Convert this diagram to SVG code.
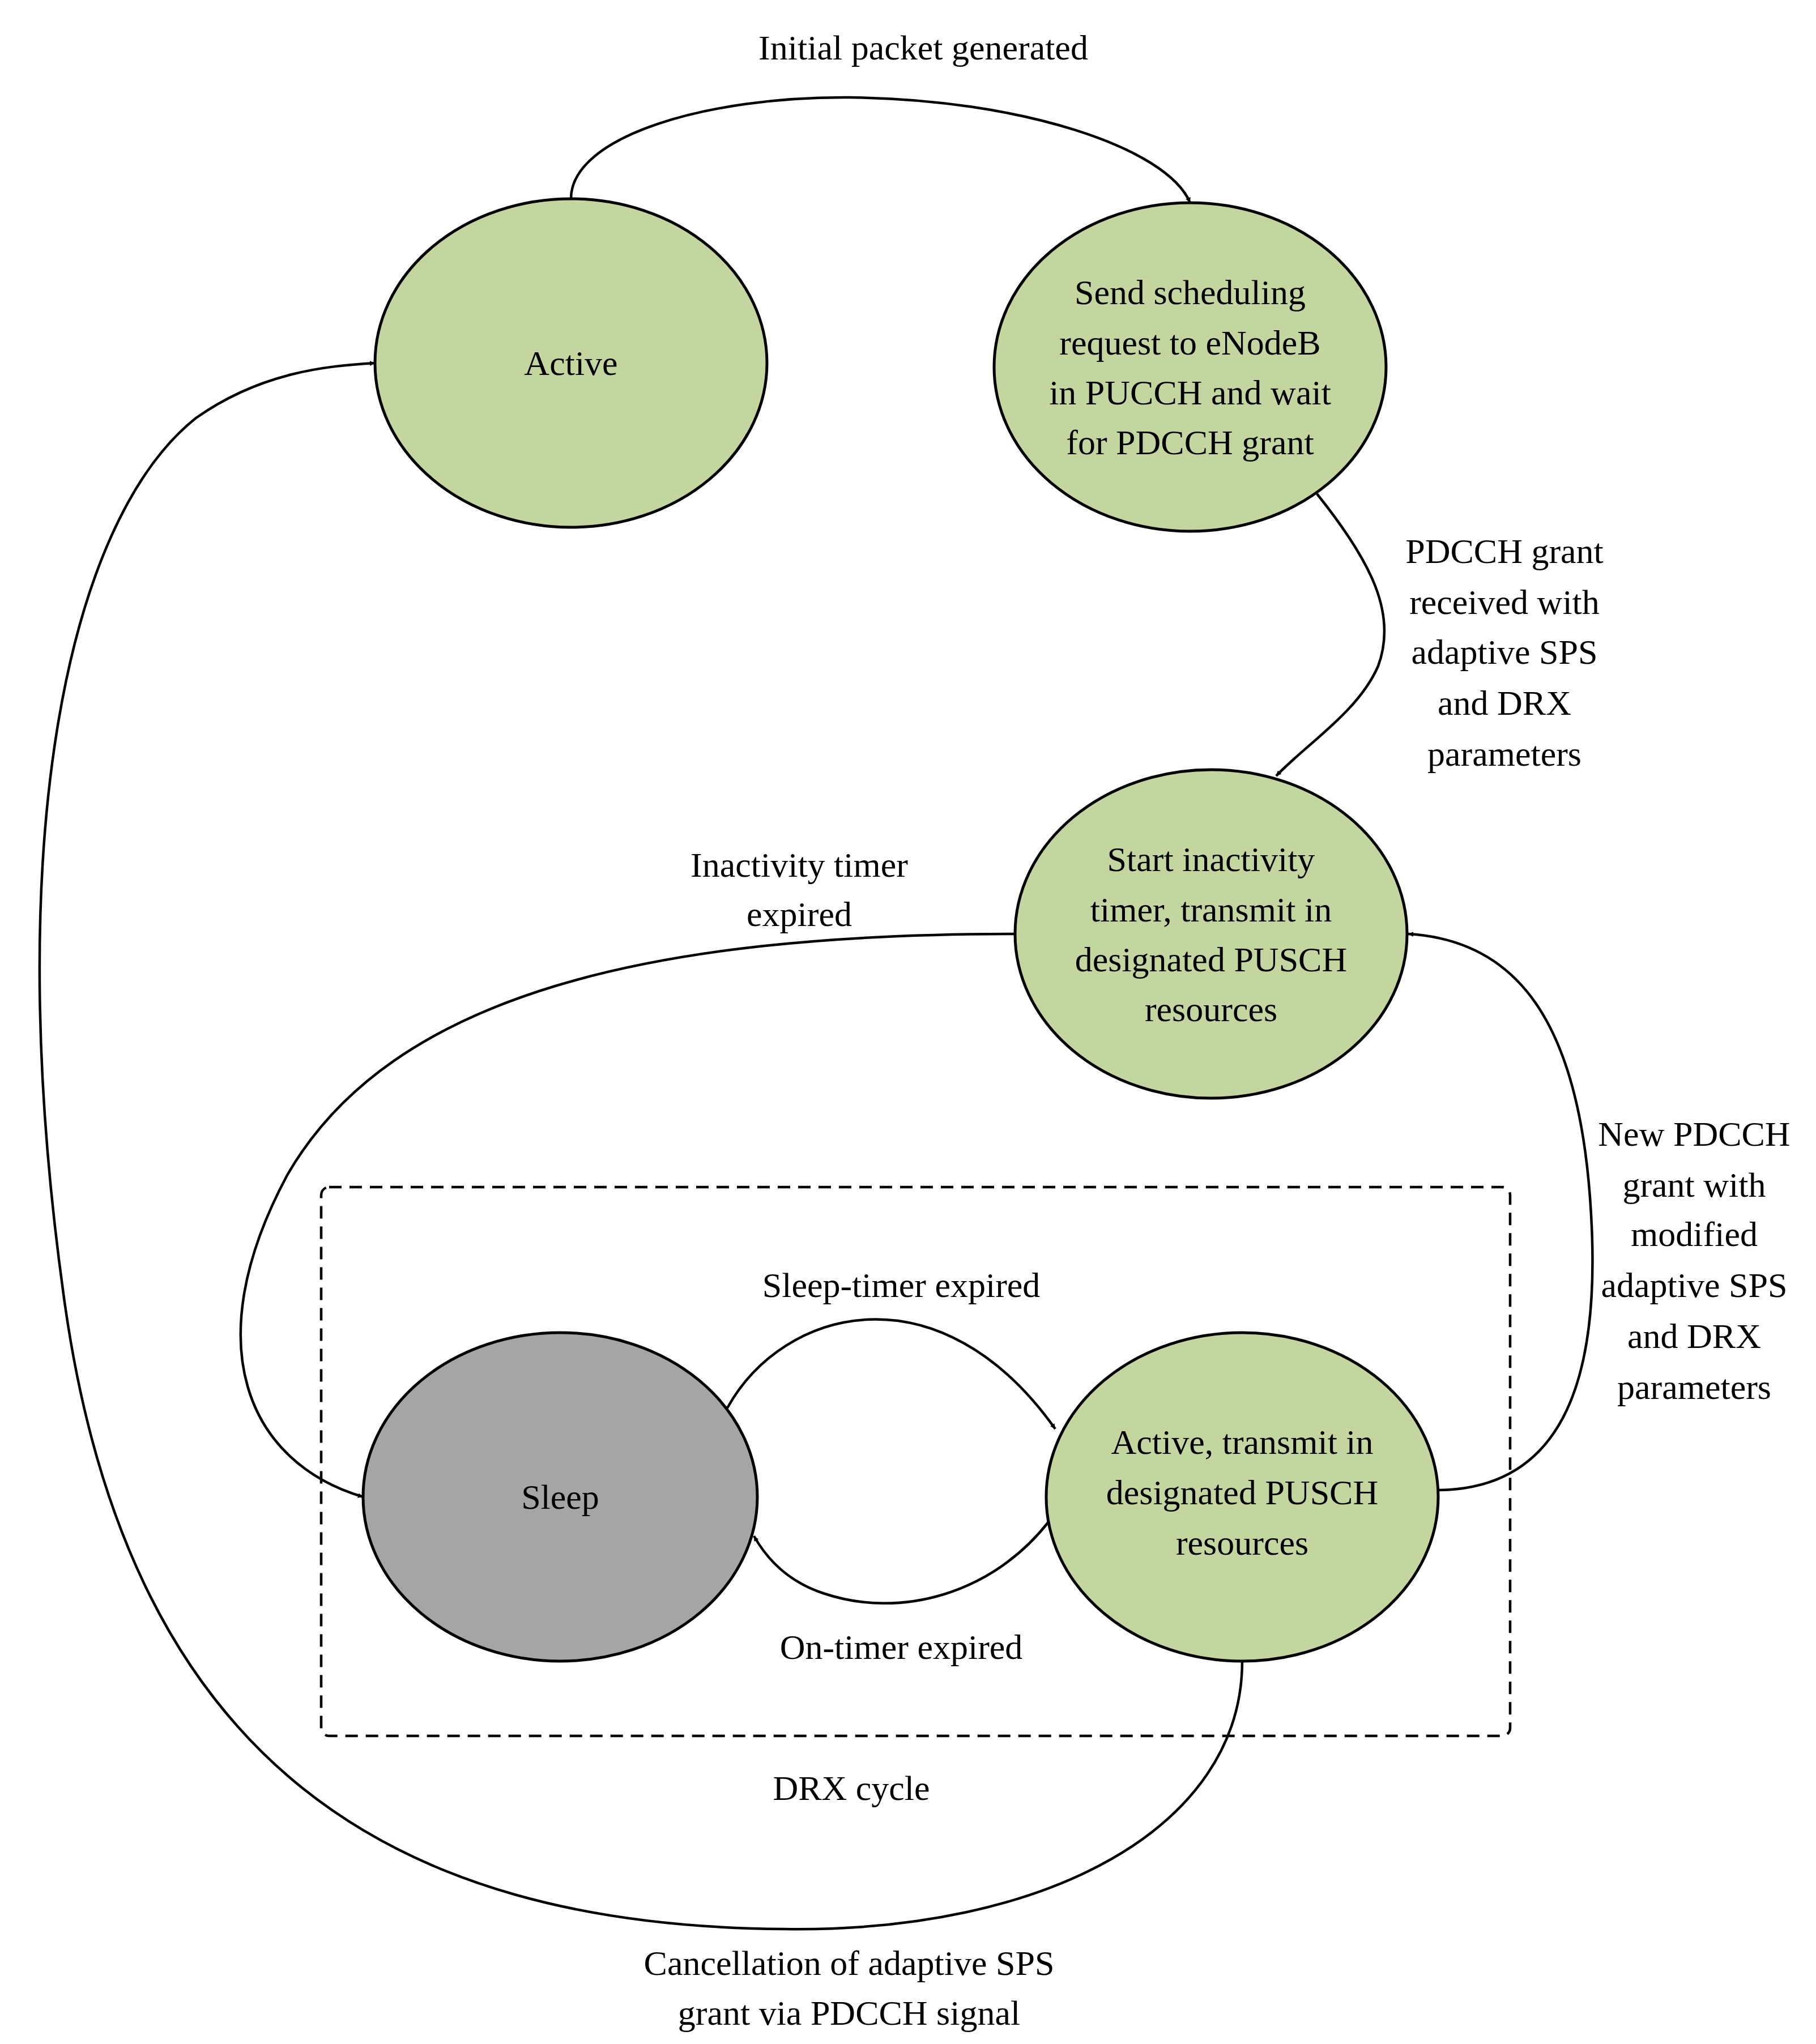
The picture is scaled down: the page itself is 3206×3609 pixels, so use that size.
<svg xmlns="http://www.w3.org/2000/svg" width="3206" height="3609" viewBox="0 0 3206 3609">
<style>
text{font-family:"Liberation Serif",serif;font-size:62px;fill:#000;text-anchor:middle}
.n{stroke:#000;stroke-width:5}
.g{fill:#c4d6a0}
.e{fill:none;stroke:#000;stroke-width:4.5}
</style>
<defs><marker id="a" viewBox="0 0 10 10" refX="10" refY="5" markerWidth="9" markerHeight="9" markerUnits="userSpaceOnUse" orient="auto"><path d="M0,0L10,5L0,10z" fill="#000"/></marker></defs>
<rect width="3206" height="3609" fill="#fff"/>
<g id="drx"><rect x="567" y="2096" width="2099" height="969" rx="14" fill="none" stroke="#000" stroke-width="4.5" stroke-dasharray="22,14"/><text x="1503" y="3178">DRX cycle</text></g>
<g id="connectors">
<path class="e" marker-end="url(#a)" style="--m:1" d="M1008,351 C1008,240 1250,170 1500,172 C1800,175 2060,260 2101,358" />
<path class="e" d="M2325,872 C2421,992 2467,1084 2433,1176 C2398,1257 2306,1314 2253,1370" marker-end="url(#a)"/>
<path class="e" d="M1792,1649 C1153,1649 692,1753 507,2075 C346,2375 438,2583 641,2643" marker-end="url(#a)"/>
<path class="e" d="M2539,2631 C2767,2629 2825,2421 2809,2145 C2790,1799 2675,1660 2486,1649" marker-end="url(#a)"/>
<path class="e" d="M1284,2486 C1384,2306 1660,2237 1863,2523" marker-end="url(#a)"/>
<path class="e" d="M1852,2686 C1753,2813 1591,2860 1453,2813 C1384,2790 1349,2744 1331,2712" marker-end="url(#a)"/>
<path class="e" d="M2193,2933 C2193,3228 1845,3413 1384,3406 C692,3401 231,3113 115,2306 C0,1499 115,922 346,738 C461,657 577,646 662,641" marker-end="url(#a)"/>
<text x="1630" y="105">Initial packet generated</text>
<text x="2656" y="994">PDCCH grant</text><text x="2656" y="1084">received with</text><text x="2656" y="1172">adaptive SPS</text><text x="2656" y="1262">and DRX</text><text x="2656" y="1352">parameters</text>
<text x="1411" y="1548">Inactivity timer</text><text x="1411" y="1635">expired</text>
<text x="2991" y="2023">New PDCCH</text><text x="2991" y="2113">grant with</text><text x="2991" y="2200">modified</text><text x="2991" y="2290">adaptive SPS</text><text x="2991" y="2380">and DRX</text><text x="2991" y="2470">parameters</text>
<text x="1591" y="2290">Sleep-timer expired</text>
<text x="1591" y="2929">On-timer expired</text>
<text x="1499" y="3487">Cancellation of adaptive SPS</text><text x="1499" y="3575">grant via PDCCH signal</text>
</g>
<g id="active"><ellipse class="n g" cx="1008" cy="641" rx="346" ry="290"/><text x="1008" y="662">Active</text></g>
<g id="sendsr"><ellipse class="n g" cx="2101" cy="648" rx="346" ry="290"/><text x="2101" y="537">Send scheduling</text><text x="2101" y="626">request to eNodeB</text><text x="2101" y="714">in PUCCH and wait</text><text x="2101" y="802">for PDCCH grant</text></g>
<g id="start"><ellipse class="n g" cx="2138" cy="1649" rx="346" ry="290"/><text x="2138" y="1538">Start inactivity</text><text x="2138" y="1627">timer, transmit in</text><text x="2138" y="1715">designated PUSCH</text><text x="2138" y="1803">resources</text></g>
<g id="sleep"><ellipse class="n" fill="#a5a5a5" cx="989" cy="2643" rx="348" ry="290"/><text x="989" y="2664">Sleep</text></g>
<g id="activetx"><ellipse class="n g" cx="2193" cy="2643" rx="346" ry="290"/><text x="2193" y="2567">Active, transmit in</text><text x="2193" y="2656">designated PUSCH</text><text x="2193" y="2745">resources</text></g>
</svg>
